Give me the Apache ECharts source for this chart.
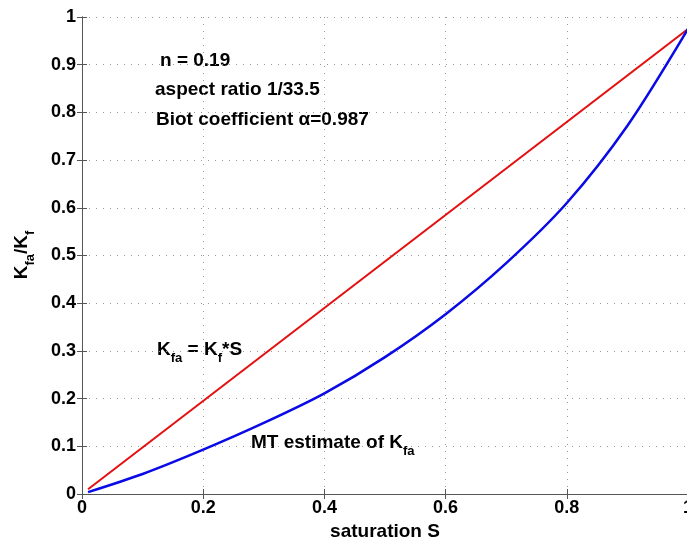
<!DOCTYPE html>
<html>
<head>
<meta charset="utf-8">
<script src="https://cdn.jsdelivr.net/npm/echarts@6/dist/echarts.min.js"></script>
<style>
  html, body { margin: 0; padding: 0; background: #fff; }
  #main { width: 687px; height: 544px; }
</style>
</head>
<body>
<div id="main"></div>
<script>
// saturation values and Kfa/Kf readings
var linS = [0.01, 1.0];
var linK = [0.01, 0.975];
var mtS = [0.01, 0.1, 0.2, 0.3, 0.4, 0.5, 0.6, 0.7, 0.8, 0.9, 1.0];
var mtK = [0.004, 0.042, 0.093, 0.149, 0.211, 0.287, 0.377, 0.484, 0.61, 0.772, 0.975];

function pairs(xs, ys) {
    var out = [];
    for (var i = 0; i < xs.length; i++) out.push([xs[i], ys[i]]);
    return out;
}

var FONT = 'Liberation Sans, Arial, sans-serif';
var frame = '#555';
var dots = { color: '#999', width: 1, type: [1, 6] };

var subRich = {
    m: { fontFamily: FONT, fontWeight: 'bold', fontSize: 19, lineHeight: 30, color: '#000' },
    s: { fontFamily: FONT, fontWeight: 'bold', fontSize: 13, lineHeight: 10, verticalAlign: 'bottom', color: '#000' }
};

var myChart = echarts.init(document.getElementById('main'));
myChart.setOption({
    animation: false,
    grid: { left: 82, width: 606, top: 17, height: 477, containLabel: false, outerBoundsMode: 'none' },
    xAxis: [
        {
            type: 'value', min: 0, max: 1, interval: 0.2,
            axisLine: { lineStyle: { color: frame, width: 1 } },
            axisTick: { inside: true, length: 5, lineStyle: { color: frame } },
            axisLabel: {
                color: '#000', fontSize: 18, fontWeight: 'bold', fontFamily: FONT, margin: 5,
                formatter: function (v) { return String(Number(v.toFixed(1))); }
            },
            splitLine: { show: true, lineStyle: dots },
            name: 'saturation S', nameLocation: 'middle', nameGap: 26,
            nameTextStyle: { color: '#000', fontSize: 19, fontWeight: 'bold', fontFamily: FONT }
        },
        {
            type: 'value', min: 0, max: 1, interval: 0.2, position: 'top',
            axisLine: { lineStyle: { color: frame, width: 1 } },
            axisTick: { inside: true, length: 5, lineStyle: { color: frame } },
            axisLabel: { show: false }, splitLine: { show: false }
        }
    ],
    yAxis: [
        {
            type: 'value', min: 0, max: 1, interval: 0.1,
            axisLine: { show: true, lineStyle: { color: frame, width: 1 } },
            axisTick: { show: true, inside: true, length: 5, lineStyle: { color: frame } },
            axisLabel: {
                color: '#000', fontSize: 18, fontWeight: 'bold', fontFamily: FONT, margin: 6,
                formatter: function (v) { return String(Number(v.toFixed(1))); }
            },
            splitLine: { show: true, lineStyle: dots }
        },
        {
            type: 'value', min: 0, max: 1, interval: 0.1, position: 'right',
            axisLine: { show: true, lineStyle: { color: frame, width: 1 } },
            axisTick: { show: true, inside: true, length: 5, lineStyle: { color: frame } },
            axisLabel: { show: false }, splitLine: { show: false }
        }
    ],
    series: [
        {
            name: 'Kfa = Kf*S', type: 'line', showSymbol: false,
            lineStyle: { color: '#e41010', width: 2 },
            data: pairs(linS, linK)
        },
        {
            name: 'MT estimate', type: 'line', showSymbol: false, smooth: 0.3,
            lineStyle: { color: '#0a0ae6', width: 2.5 },
            data: pairs(mtS, mtK)
        }
    ],
    graphic: [
        {
            type: 'text', x: 22, y: 255, rotation: Math.PI / 2,
            style: { text: '{m|K}{s|fa}{m|/K}{s|f}', rich: subRich, align: 'center', verticalAlign: 'middle' }
        },
        {
            type: 'text', x: 160, y: 61,
            style: { text: 'n = 0.19', font: 'bold 19px ' + FONT, fill: '#000', align: 'left', verticalAlign: 'middle' }
        },
        {
            type: 'text', x: 155, y: 90,
            style: { text: 'aspect ratio 1/33.5', font: 'bold 19px ' + FONT, fill: '#000', align: 'left', verticalAlign: 'middle' }
        },
        {
            type: 'text', x: 156, y: 120,
            style: { text: 'Biot coefficient \u03b1=0.987', font: 'bold 19px ' + FONT, fill: '#000', align: 'left', verticalAlign: 'middle' }
        },
        {
            type: 'text', x: 157, y: 335,
            style: { text: '{m|K}{s|fa}{m| = K}{s|f}{m|*S}', rich: subRich, align: 'left', verticalAlign: 'top' }
        },
        {
            type: 'text', x: 251, y: 428,
            style: { text: '{m|MT estimate of K}{s|fa}', rich: subRich, align: 'left', verticalAlign: 'top' }
        }
    ]
});
</script>
</body>
</html>
